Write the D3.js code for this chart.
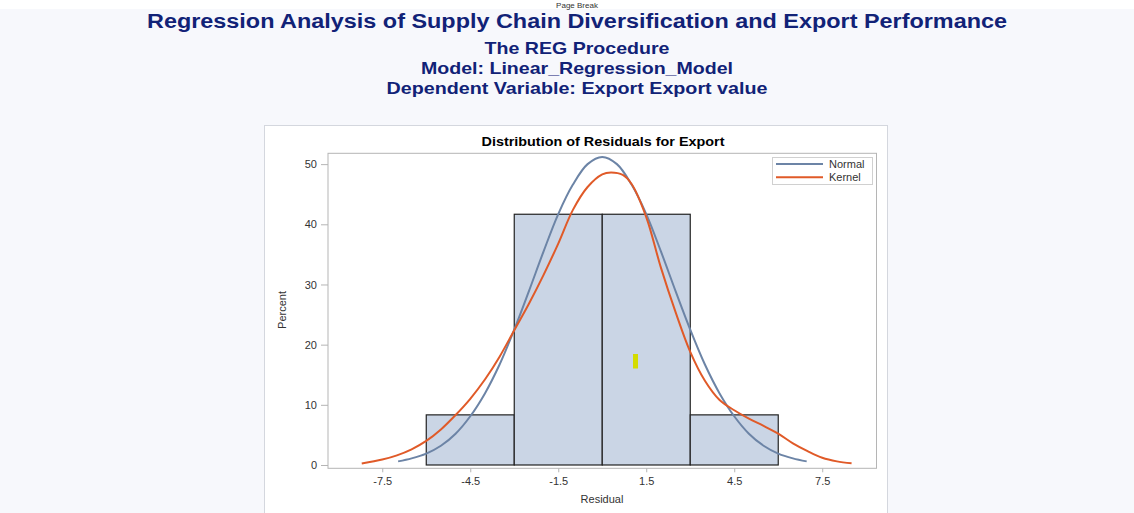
<!DOCTYPE html>
<html>
<head>
  <meta charset="utf-8">
  <script src="https://d3js.org/d3.v7.min.js"></script>
  <style>
    body { margin: 0; background: #f7f8fc; }
    svg { display: block; font-family: "Liberation Sans", Arial, sans-serif; }
    .page-title { fill: #112277; font-weight: bold; text-anchor: middle; }
    .axis text { font-size: 11px; fill: #333; }
    .axis path, .axis line { stroke: #b5b5b5; }
  </style>
</head>
<body>
  <svg id="chart" width="1134" height="513"></svg>
  <script>
    // Histogram bins (midpoint, percent)
    const binMids = [-4.5, -1.5, 1.5, 4.5];
    const binPercents = [8.33, 41.67, 41.67, 8.33];
    const binWidth = 3;

    // Normal density curve
    const normalX = [-6.96, -6.5, -6, -5.5, -5, -4.5, -4, -3.5, -3, -2.5, -2, -1.5, -1, -0.5, 0,
                     0.5, 1, 1.5, 2, 2.5, 3, 3.5, 4, 4.5, 5, 5.5, 6, 6.5, 6.97];
    const normalY = [0.6, 1.1, 1.9, 3.2, 5.2, 8.1, 11.9, 16.7, 22.5, 28.9, 35.5, 41.7, 46.6, 50.0, 51.2,
                     50.0, 46.6, 41.7, 35.5, 28.9, 22.5, 16.7, 11.9, 8.1, 5.2, 3.2, 1.9, 1.1, 0.6];

    // Kernel density curve
    const kernelX = [-8.2, -7.5, -7, -6.5, -6, -5.5, -5, -4.5, -4, -3.5, -3, -2.5, -2, -1.5, -1, -0.5, 0, 0.3,
                     0.7, 1, 1.5, 2, 2.5, 3, 3.5, 4, 4.5, 5, 5.5, 6, 6.5, 7, 7.5, 8, 8.5];
    const kernelY = [0.25, 0.9, 1.6, 2.6, 4.0, 5.9, 8.3, 11.0, 14.2, 18.0, 22.4, 26.8, 31.6, 36.8, 42.4, 46.2, 48.3, 48.6,
                     48.2, 46.7, 41.2, 32.8, 25.4, 18.8, 14.0, 10.8, 9.1, 7.7, 6.5, 5.2, 3.6, 2.3, 1.2, 0.6, 0.28];

    const xTicks = [-7.5, -4.5, -1.5, 1.5, 4.5, 7.5];
    const yTicks = [0, 10, 20, 30, 40, 50];

    const svg = d3.select("#chart");

    // top strip with the "Page Break" marker
    svg.append("rect").attr("x", 0).attr("y", 0).attr("width", 1134).attr("height", 9).attr("fill", "#ffffff");
    svg.append("text").attr("x", 577).attr("y", 8).attr("text-anchor", "middle")
      .attr("font-size", 8).attr("fill", "#333").text("Page Break");

    // page titles
    svg.append("text").attr("class", "page-title").attr("x", 577).attr("y", 28)
      .attr("font-size", 20).attr("textLength", 860).attr("lengthAdjust", "spacingAndGlyphs")
      .text("Regression Analysis of Supply Chain Diversification and Export Performance");
    const subs = ["The REG Procedure", "Model: Linear_Regression_Model", "Dependent Variable: Export Export value"];
    const subWidths = [185, 312, 381];
    svg.selectAll(".sub").data(subs).join("text")
      .attr("class", "page-title sub")
      .attr("x", 577)
      .attr("y", (d, i) => 54 + i * 20)
      .attr("font-size", 16.5)
      .attr("textLength", (d, i) => subWidths[i])
      .attr("lengthAdjust", "spacingAndGlyphs")
      .text(d => d);

    // graph container
    svg.append("rect").attr("x", 264.5).attr("y", 125.5).attr("width", 623).attr("height", 400)
      .attr("fill", "#fff").attr("stroke", "#d4d7de");

    svg.append("text").attr("x", 603).attr("y", 146).attr("text-anchor", "middle")
      .attr("font-size", 13).attr("font-weight", "bold").attr("fill", "#000")
      .attr("textLength", 243).attr("lengthAdjust", "spacingAndGlyphs")
      .text("Distribution of Residuals for Export");

    const plotL = 328, plotR = 876.5, plotT = 153.3, plotB = 468.3;
    const x = d3.scaleLinear().domain([-9.35, 9.35]).range([plotL, plotR]);
    const y = d3.scaleLinear().domain([-0.55, 51.8]).range([plotB, plotT]);

    // frame
    svg.append("rect").attr("x", plotL).attr("y", plotT).attr("width", plotR - plotL).attr("height", plotB - plotT)
      .attr("fill", "#fff").attr("stroke", "#b5b5b5");

    // histogram
    svg.selectAll(".bar").data(binMids).join("rect")
      .attr("class", "bar")
      .attr("x", d => x(d - binWidth / 2))
      .attr("y", (d, i) => y(binPercents[i]))
      .attr("width", d => x(d + binWidth / 2) - x(d - binWidth / 2))
      .attr("height", (d, i) => y(0) - y(binPercents[i]))
      .attr("fill", "#cad5e5")
      .attr("stroke", "#222")
      .attr("stroke-width", 1.2);

    // yellow marker seen on the plot
    svg.append("rect").attr("x", 633).attr("y", 354).attr("width", 5).attr("height", 14.5).attr("fill", "#d4dc00");

    const line = d3.line().x(d => x(d[0])).y(d => y(d[1])).curve(d3.curveCatmullRom);
    svg.append("path").datum(d3.zip(normalX, normalY)).attr("d", line)
      .attr("fill", "none").attr("stroke", "#6c84a6").attr("stroke-width", 2);
    svg.append("path").datum(d3.zip(kernelX, kernelY)).attr("d", line)
      .attr("fill", "none").attr("stroke", "#e05a28").attr("stroke-width", 2);

    // axes
    const xAxis = svg.append("g").attr("class", "axis").attr("transform", `translate(0,${plotB})`)
      .call(d3.axisBottom(x).tickValues(xTicks).tickSize(4).tickPadding(5).tickFormat(d => d.toFixed(1)));
    xAxis.select(".domain").remove();
    const yAxis = svg.append("g").attr("class", "axis").attr("transform", `translate(${plotL},0)`)
      .call(d3.axisLeft(y).tickValues(yTicks).tickSize(7).tickPadding(4));
    yAxis.select(".domain").remove();

    svg.append("text").attr("x", 602).attr("y", 503).attr("text-anchor", "middle")
      .attr("font-size", 11).attr("fill", "#333").text("Residual");
    svg.append("text").attr("transform", "translate(286,310) rotate(-90)").attr("text-anchor", "middle")
      .attr("font-size", 11).attr("fill", "#333").text("Percent");

    // legend
    svg.append("rect").attr("x", 772.5).attr("y", 157.5).attr("width", 100).attr("height", 27)
      .attr("fill", "#fff").attr("stroke", "#d0d0d0");
    const legendNames = ["Normal", "Kernel"];
    const legendColors = ["#6c84a6", "#e05a28"];
    legendNames.forEach((name, i) => {
      const ly = 164 + i * 13.3;
      svg.append("line").attr("x1", 776).attr("x2", 823).attr("y1", ly).attr("y2", ly)
        .attr("stroke", legendColors[i]).attr("stroke-width", 2);
      svg.append("text").attr("x", 829).attr("y", ly + 4).attr("font-size", 11).attr("fill", "#333").text(name);
    });
  </script>
</body>
</html>
